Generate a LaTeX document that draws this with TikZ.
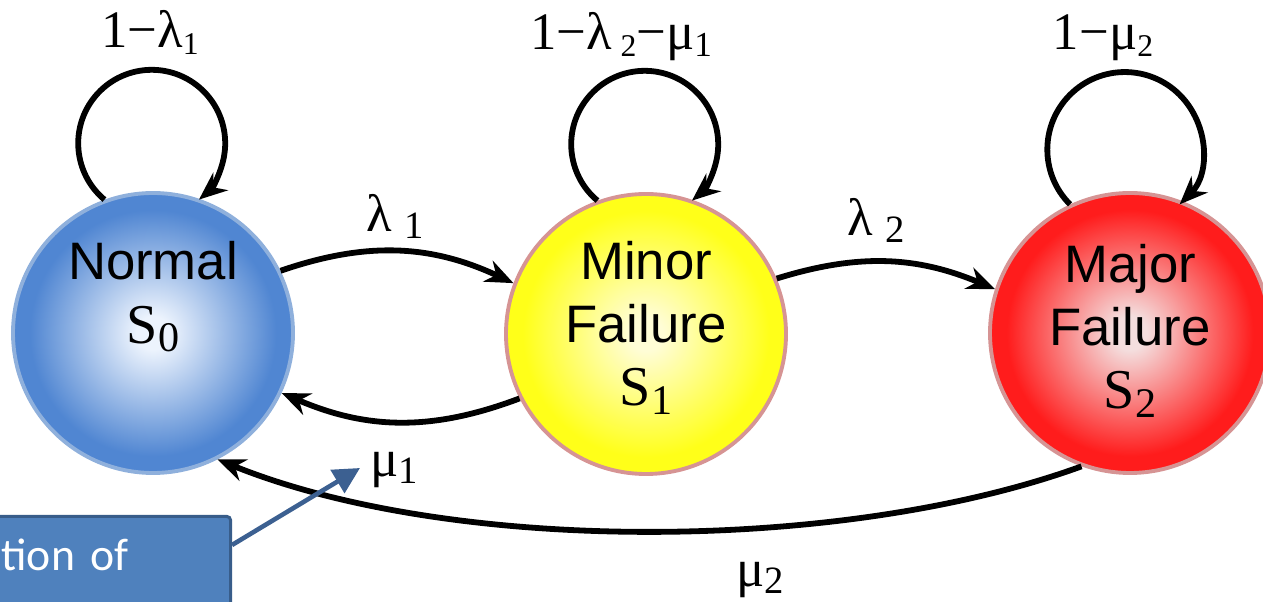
\documentclass[tikz,border=0pt]{standalone}
\usepackage{fontspec}
\setmainfont{Liberation Serif}
\setsansfont{Liberation Sans}
\newfontfamily\notefont{Carlito}
\usepackage{xcolor}
\usetikzlibrary{arrows.meta}

\definecolor{normout}{RGB}{80,134,210}
\definecolor{normin}{RGB}{236,243,253}
\definecolor{normrim}{RGB}{143,176,220}
\definecolor{minout}{RGB}{255,255,25}
\definecolor{minin}{RGB}{255,253,214}
\definecolor{majout}{RGB}{255,28,28}
\definecolor{majin}{RGB}{244,222,222}
\definecolor{failrim}{RGB}{214,148,148}
\definecolor{notefill}{RGB}{79,129,189}
\definecolor{noterim}{RGB}{56,93,138}
\definecolor{notearrow}{RGB}{60,96,145}

\pgfdeclareradialshading{normball}{\pgfpoint{0bp}{0bp}}{color(0bp)=(normin); color(3bp)=(normin); color(22bp)=(normout); color(50bp)=(normout)}
\pgfdeclareradialshading{minball}{\pgfpoint{0bp}{0bp}}{color(0bp)=(minin); color(3bp)=(minin); color(22bp)=(minout); color(50bp)=(minout)}
\pgfdeclareradialshading{majball}{\pgfpoint{0bp}{0bp}}{color(0bp)=(majin); color(3bp)=(majin); color(22bp)=(majout); color(50bp)=(majout)}

\newcommand{\sbs}[2][20]{\raisebox{-4pt}{\fontsize{#1}{#1}\selectfont #2}}
\newcommand{\stname}[1]{{\rmfamily\fontsize{32}{36}\selectfont S\raisebox{-5pt}{\fontsize{24}{24}\selectfont #1}}}

\begin{document}
\begin{tikzpicture}[
      st/.style={circle, minimum size=5.6cm, inner sep=0pt, line width=2.2pt, shade},
      txt/.style={font=\sffamily\fontsize{30}{36}\selectfont, align=center},
      lab/.style={font=\rmfamily\fontsize{30}{36}\selectfont, inner sep=1pt},
      tr/.style={-{Stealth[length=16pt,width=13pt]}, line width=3.3pt},
      note/.style={fill=notefill, draw=noterim, line width=1.7pt, rounded corners=2pt,
      text=white, font=\notefont\fontsize{26}{33}\selectfont, align=left,
      text width=4.38cm, inner xsep=0.2cm, inner ysep=13pt},
      callout/.style={-{Triangle[length=15pt,width=15pt]}, draw=notearrow, line width=2.6pt}]
    \useasboundingbox (0,0) rectangle (25.26,12.04);
    \node[st, draw=normrim, shading=normball] (s0) at (3.06,5.38) {};
    \node[st, draw=failrim, shading=minball] (s1) at (12.92,5.36) {};
    \node[st, draw=failrim, shading=majball] (s2) at (22.6,5.38) {};
    \node[txt] (t0) at ([yshift=0.72cm]s0.center) {Normal\\\stname{0}};
    \node[txt] (t1) at ([yshift=0.12cm]s1.center) {Minor\\Failure\\\stname{1}};
    \node[txt] (t2) at ([yshift=0.04cm]s2.center) {Major\\Failure\\\stname{2}};
    \node[lab] (p00) at (3.0,11.4) {1−λ\sbs[18]{1}};
    \node[lab] (p11) at (12.42,11.3) {1−λ\,\sbs[18]{2}−μ\sbs[20]{1}};
    \node[lab] (p22) at (22.06,11.28) {1−μ\sbs[18]{2}};
    \node[lab] (p01) at (7.9,7.72) {λ\hspace{7pt}\sbs[22]{1}};
    \node[lab] (p12) at (17.52,7.64) {λ\hspace{7pt}\sbs[22]{2}};
    \node[lab] (p10) at (7.88,2.64) {μ\sbs[22]{1}};
    \node[lab] (p20) at (15.2,0.44) {μ\sbs[22]{2}};
    \node[note, anchor=north east] (note) at (4.64,1.74) {tion of\\\strut};
    \coordinate (tip) at (7.2,2.68);
    \draw[tr] (s0.110) arc[start angle=230, end angle=-50, radius=1.47];
    \draw[tr] (s1.110) arc[start angle=230, end angle=-50, radius=1.47];
    \draw[tr] (s2.115) arc[start angle=225, end angle=-45, radius=1.55];
    \draw[tr] (s0.26) to[bend left=22] (s1.159);
    \draw[tr] (s1.23) to[bend left=20] (s2.162);
    \draw[tr] (s1.207) to[bend left=22] (s0.335);
    \draw[tr] (s2.250) to[out=200, in=-22, looseness=0.75] (s0.297);
    \draw[callout] ([yshift=-0.6cm]note.north east) -- (tip);
  \end{tikzpicture}
\end{document}
